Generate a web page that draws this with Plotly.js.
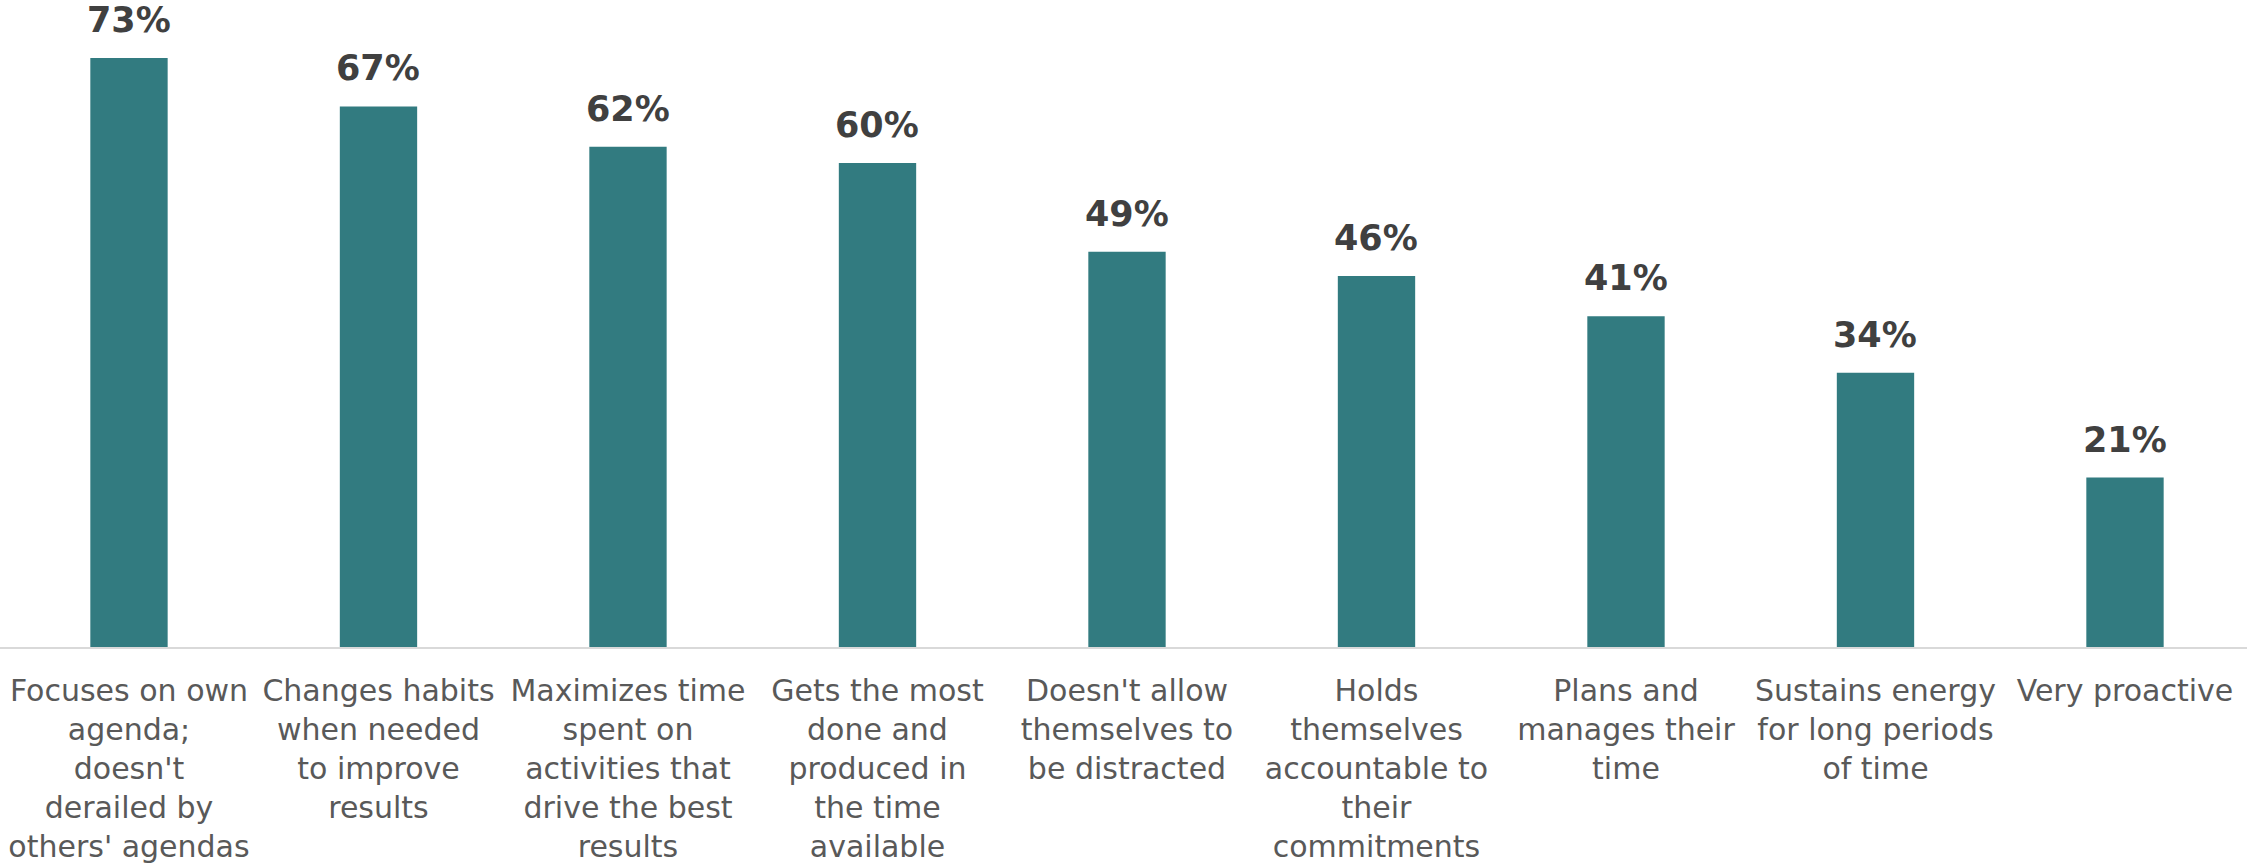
<!DOCTYPE html>
<html>
<head>
<meta charset="utf-8">
<script src="https://cdn.plot.ly/plotly-3.0.1.min.js"></script>
<style>html,body{margin:0;padding:0;background:#fff;}#chart{width:2247px;height:863px;}</style>
</head>
<body>
<div id="chart"></div>
<script>
const categories = [
  "Focuses on own<br>agenda;<br>doesn't<br>derailed by<br>others' agendas",
  "Changes habits<br>when needed<br>to improve<br>results",
  "Maximizes time<br>spent on<br>activities that<br>drive the best<br>results",
  "Gets the most<br>done and<br>produced in<br>the time<br>available",
  "Doesn't allow<br>themselves to<br>be distracted",
  "Holds<br>themselves<br>accountable to<br>their<br>commitments",
  "Plans and<br>manages their<br>time",
  "Sustains energy<br>for long periods<br>of time",
  "Very proactive"
];
const values = [73, 67, 62, 60, 49, 46, 41, 34, 21];
const valueLabels = values.map(v => v + "%");

const trace = {
  type: "bar",
  x: categories,
  y: values,
  width: 0.31,
  marker: { color: "#327b80" },
  hoverinfo: "skip"
};

const annotations = categories.map((c, i) => ({
  x: c, y: values[i], xref: "x", yref: "y",
  text: valueLabels[i], showarrow: false,
  yanchor: "bottom", yshift: 16,
  font: { family: "DejaVu Sans", size: 35, color: "#404040", weight: "bold" }
}));

const layout = {
  width: 2247, height: 863,
  margin: { l: 0, r: 0, t: 0, b: 216 },
  paper_bgcolor: "#ffffff", plot_bgcolor: "#ffffff",
  showlegend: false,
  xaxis: {
    type: "category",
    range: [-0.517, 8.489],
    showline: true, linecolor: "#d9d9d9", linewidth: 2,
    showgrid: false, zeroline: false, ticks: "",
    ticklabelstandoff: 16,
    tickfont: { family: "DejaVu Sans", size: 30, color: "#595959" }
  },
  yaxis: {
    range: [0, 80.2],
    showgrid: false, zeroline: false, showline: false,
    showticklabels: false, ticks: ""
  },
  annotations: annotations
};

Plotly.newPlot("chart", [trace], layout, { displayModeBar: false, staticPlot: true });
</script>
</body>
</html>
